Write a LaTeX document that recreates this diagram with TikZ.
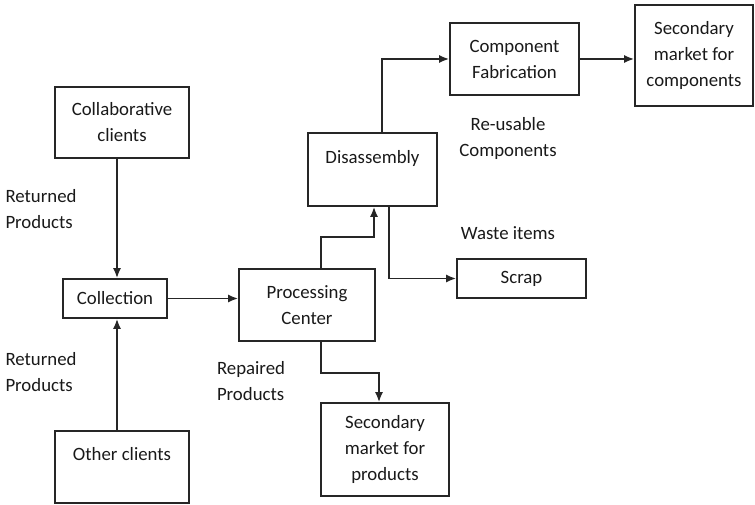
\documentclass[tikz,border=0pt]{standalone}
\usepackage{fontspec}
\setmainfont{Carlito}
\usetikzlibrary{arrows.meta,calc,positioning}

\tikzset{
	block/.style={draw=black!85, line width=1.6pt, align=center, inner sep=0pt,
		text=black!90, font=\fontsize{18.8}{26}\selectfont},
	lbl/.style={inner sep=0pt, text=black!90, font=\fontsize{18.8}{26}\selectfont},
	flow/.style={->, line width=1.8pt, draw=black!85},
}

\begin{document}
\begin{tikzpicture}[>={Latex[length=10pt,width=8pt]}, x=1pt, y=-1pt]
	\useasboundingbox (0,0) rectangle (755,505);

	\node[block, minimum width=134pt, minimum height=71pt]  (collab)     at (122,122.5) {Collaborative\\clients};
	\node[block, minimum width=104pt, minimum height=39pt]  (collection) at (115,298.5) {Collection};
	\node[block, minimum width=134pt, minimum height=72pt]  (other)      at (122,467)   {Other clients\\\mbox{}};
	\node[block, minimum width=136pt, minimum height=72pt]  (processing) at (307,305)   {Processing\\Center};
	\node[block, minimum width=129pt, minimum height=73pt]  (disassembly) at (372.5,169.5) {Disassembly\\\mbox{}};
	\node[block, minimum width=129pt, minimum height=72pt]  (compfab)    at (514.5,59)  {Component\\Fabrication};
	\node[block, minimum width=118pt, minimum height=101pt] (seccomp)    at (694,55.5)  {Secondary\\market for\\components};
	\node[block, minimum width=129pt, minimum height=39pt]  (scrap)      at (521.5,278.5) {Scrap};
	\node[block, minimum width=128pt, minimum height=93pt]  (secprod)    at (385,449.5) {Secondary\\market for\\products};

	\node[lbl, align=left]   (returnedA) at (41,209.5)  {Returned\\Products};
	\node[lbl, align=left]   (returnedB) at (41,372.5)  {Returned\\Products};
	\node[lbl, align=left]   (repaired)  at (251,381.5) {Repaired\\Products};
	\node[lbl, align=center] (reusable)  at (508,138)   {Re-usable\\Components};
	\node[lbl]               (waste)     at (508,233)   {Waste items};

	\draw[flow] ([xshift=-5pt]collab.south) -- ([xshift=-5pt]collab.south |- collection.north);
	\draw[flow] ([xshift=-5pt]other.north) -- ([xshift=-5pt]other.north |- collection.south);
	\draw[flow] (collection.east) -- (collection.east -| processing.west);
	\draw[flow] ([xshift=14pt]processing.north) -- ++(0,-31) -| ([xshift=1.5pt]disassembly.south);
	\draw[flow] ([xshift=16.5pt]disassembly.south) |- (scrap.west);
	\draw[flow] ([xshift=9.5pt]disassembly.north) |- (compfab.west);
	\draw[flow] (compfab.east) -- (compfab.east -| seccomp.west);
	\draw[flow] ([xshift=14pt]processing.south) -- ++(0,31) -| ([xshift=-6pt]secprod.north);
\end{tikzpicture}
\end{document}
